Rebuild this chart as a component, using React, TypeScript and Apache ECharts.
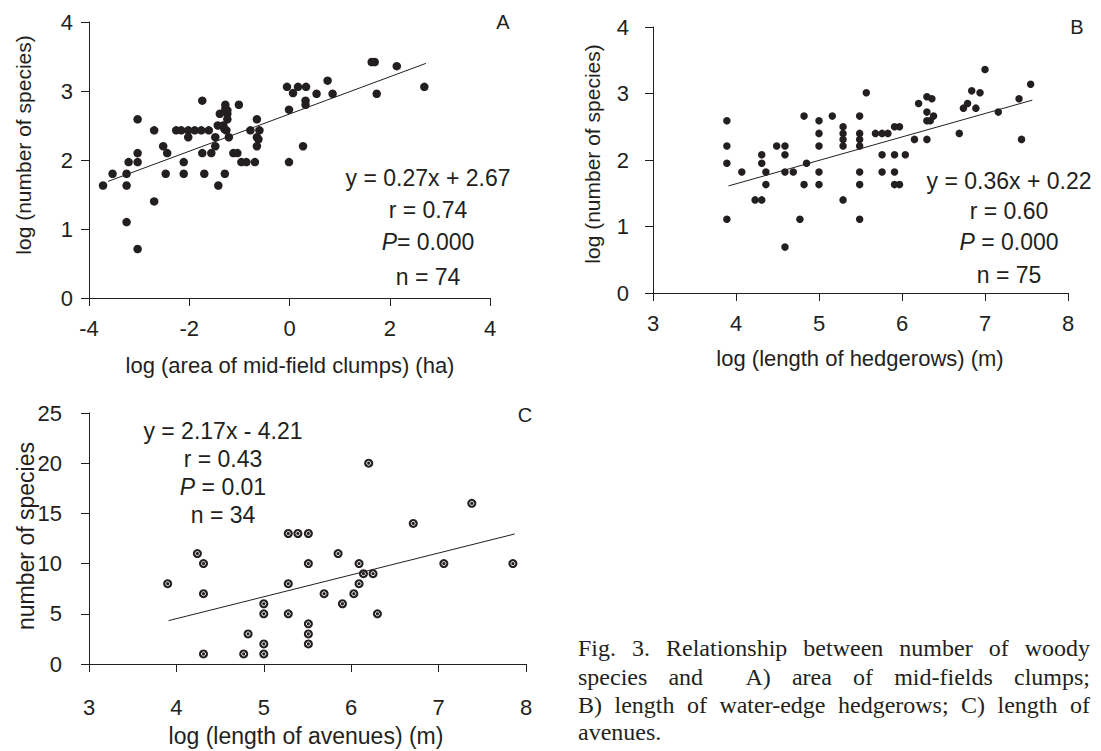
import React, { useEffect, useRef } from "react";
import * as echarts from "echarts";

const INK = "#231f20";
const SANS = "'Liberation Sans', Arial, Helvetica, sans-serif";
const SERIF = "'Liberation Serif', 'Times New Roman', serif";

// Panel A: log(area of mid-field clumps) vs log(number of species)
const clumpsPoints: number[][] = [
  [-3.72, 1.63], [-3.53, 1.8], [-3.25, 1.8], [-3.25, 1.63], [-3.21, 1.97], [-3.25, 1.1],
  [-3.03, 2.59], [-3.03, 2.1], [-3.03, 1.97], [-3.03, 0.71], [-2.7, 2.43], [-2.7, 1.4],
  [-2.52, 2.2], [-2.44, 2.1], [-2.47, 1.8], [-2.26, 2.43], [-2.16, 2.43], [-2.11, 1.97],
  [-2.11, 1.8], [-2.02, 2.33], [-2.02, 2.43], [-1.89, 2.43], [-1.76, 2.43], [-1.61, 2.43],
  [-1.74, 2.86], [-1.74, 2.1], [-1.7, 1.8], [-1.56, 2.1], [-1.48, 2.33], [-1.48, 2.2],
  [-1.42, 1.63], [-1.43, 2.5], [-1.39, 2.67], [-1.32, 2.5], [-1.29, 1.8], [-1.28, 2.8],
  [-1.24, 2.67], [-1.24, 2.59], [-1.26, 2.43], [-1.21, 2.33], [-1.12, 2.1], [-1.04, 2.1],
  [-1.01, 2.8], [-0.96, 1.97], [-0.86, 1.97], [-0.78, 2.43], [-0.69, 1.97], [-0.65, 2.59],
  [-0.65, 2.33], [-0.6, 2.43], [-0.65, 2.2], [-0.05, 3.06], [-0.01, 2.73], [-0.01, 1.97],
  [0.07, 2.97], [0.17, 3.06], [0.33, 3.06], [0.32, 2.86], [0.32, 2.8], [0.27, 2.2],
  [0.54, 2.96], [0.76, 3.15], [0.86, 2.96], [1.64, 3.42], [1.7, 3.42], [1.74, 2.96],
  [2.14, 3.36], [2.69, 3.06], [-1.28, 2.74], [-1.24, 2.72], [-0.62, 2.3], [-1.3, 2.45],
];
const clumpsFit: number[][] = [[-3.62, 1.69], [2.72, 3.4]];
const clumpsStats = ["y = 0.27x + 2.67", "r = 0.74", "P= 0.000", "n = 74"];

// Panel B: log(length of hedgerows) vs log(number of species)
const hedgePoints: number[][] = [
  [3.89, 2.59], [3.89, 2.21], [3.89, 1.95], [3.89, 1.11], [4.07, 1.82], [4.23, 1.4],
  [4.31, 1.4], [4.31, 2.08], [4.31, 1.95], [4.36, 1.82], [4.36, 1.63], [4.49, 2.21],
  [4.59, 2.21], [4.59, 2.08], [4.59, 1.82], [4.59, 0.69], [4.69, 1.82], [4.77, 1.11],
  [4.82, 2.66], [4.82, 1.63], [4.85, 1.95], [5.0, 2.59], [5.0, 2.4], [5.0, 2.21],
  [5.0, 1.82], [5.0, 1.63], [5.16, 2.66], [5.29, 2.5], [5.29, 2.4], [5.29, 2.31],
  [5.29, 2.21], [5.29, 1.4], [5.49, 2.66], [5.49, 2.4], [5.49, 2.31], [5.49, 2.21],
  [5.49, 1.82], [5.49, 1.63], [5.49, 1.11], [5.57, 3.01], [5.68, 2.4], [5.76, 2.4],
  [5.83, 2.4], [5.76, 2.08], [5.76, 1.82], [5.91, 2.5], [5.97, 2.5], [5.91, 2.08],
  [5.91, 1.82], [5.91, 1.63], [5.97, 1.63], [6.04, 2.08], [6.15, 2.31], [6.2, 2.85],
  [6.3, 2.95], [6.36, 2.92], [6.3, 2.72], [6.3, 2.59], [6.34, 2.59], [6.38, 2.66],
  [6.3, 2.31], [6.69, 2.4], [6.74, 2.78], [6.79, 2.85], [6.84, 3.04], [6.89, 2.78],
  [6.94, 3.01], [7.0, 3.36], [7.16, 2.72], [7.41, 2.92], [7.44, 2.31], [7.55, 3.14],
];
const hedgeFit: number[][] = [[3.91, 1.61], [7.57, 2.9]];
const hedgeStats = ["y = 0.36x + 0.22", "r = 0.60", "P = 0.000", "n = 75"];

// Panel C: log(length of avenues) vs number of species
const avenuePoints: number[][] = [
  [3.9, 8], [4.24, 11], [4.31, 10], [4.31, 7], [4.31, 1], [4.77, 1], [4.82, 3],
  [5.0, 6], [5.0, 5], [5.0, 2], [5.0, 1], [5.28, 13], [5.39, 13], [5.51, 13],
  [5.28, 8], [5.28, 5], [5.51, 10], [5.51, 4], [5.51, 3], [5.51, 2], [5.69, 7],
  [5.85, 11], [5.9, 6], [6.03, 7], [6.09, 10], [6.09, 8], [6.14, 9], [6.25, 9],
  [6.2, 20], [6.3, 5], [6.71, 14], [7.06, 10], [7.38, 16], [7.85, 10],
];
const avenueFit: number[][] = [[3.91, 4.32], [7.87, 12.95]];
const avenueStats = ["y = 2.17x - 4.21", "r = 0.43", "P = 0.01", "n = 34"];

const captionLines = [
  "Fig. 3. Relationship between number of woody",
  "species and  A) area of mid-fields clumps;",
  "B) length of water-edge hedgerows; C) length of",
  "avenues.",
];

function axisBase(fontSize: number, margin: number) {
  return {
    axisLine: { show: true, onZero: false, lineStyle: { color: INK, width: 1 } },
    axisTick: { show: true, inside: false, length: 8, lineStyle: { color: INK, width: 1 } },
    splitLine: { show: false },
    axisLabel: {
      color: INK, fontFamily: SANS, fontSize, margin,
      showMinLabel: true, showMaxLabel: true,
    },
  };
}

function statTexts(lines: string[], cx: number, ys: number[], fontSize: number) {
  return lines.map((t, i) => {
    const isP = t.startsWith("P");
    const base = { fill: INK, fontFamily: SANS, fontSize };
    return {
      type: "text",
      x: cx,
      y: ys[i],
      style: isP
        ? {
            text: "{i|P}{n|" + t.slice(1) + "}",
            rich: {
              i: { ...base, fontStyle: "italic" },
              n: { ...base },
            },
            align: "center",
            verticalAlign: "middle",
            textAlign: "center",
            textVerticalAlign: "middle",
          }
        : { ...base, text: t, textAlign: "center", textVerticalAlign: "middle", align: "center", verticalAlign: "middle" },
    };
  });
}

function captionElements() {
  const fontSize = 24;
  const left = 578;
  const right = 1090;
  const centers = [648, 677, 705, 732];
  const canvas = document.createElement("canvas");
  const ctx = canvas.getContext("2d") as CanvasRenderingContext2D;
  ctx.font = `${fontSize}px ${SERIF}`;
  const els: any[] = [];
  captionLines.forEach((line, li) => {
    const style = { fill: INK, fontFamily: SERIF, fontSize, textVerticalAlign: "middle", verticalAlign: "middle" };
    if (li === captionLines.length - 1) {
      els.push({ type: "text", x: left, y: centers[li], style: { ...style, text: line, textAlign: "left" } });
      return;
    }
    const words = line.split(" ");
    const widths = words.map((w) => (w ? ctx.measureText(w).width : 0));
    const total = widths.reduce((a, b) => a + b, 0);
    const gap = (right - left - total) / (words.length - 1);
    let x = left;
    words.forEach((w, wi) => {
      if (w) els.push({ type: "text", x, y: centers[li], style: { ...style, text: w, textAlign: "left" } });
      x += widths[wi] + gap;
    });
  });
  return els;
}

function nameText(text: string, x: number, y: number, fontSize: number, rotate = 0) {
  return {
    type: "text",
    x, y, rotation: rotate,
    style: {
      text, fill: INK, fontFamily: SANS, fontSize,
      textAlign: "center", textVerticalAlign: "middle", align: "center", verticalAlign: "middle",
    },
  };
}

export default function App() {
  const ref = useRef<HTMLDivElement>(null);
  useEffect(() => {
    document.body.style.margin = "0";
    if (!ref.current) return;
    const chart = echarts.init(ref.current, undefined, { renderer: "svg" });
    const option: any = {
      animation: false,
      backgroundColor: "#ffffff",
      grid: [
        { left: 89, top: 22, width: 401, height: 276 },
        { left: 653, top: 27, width: 415, height: 266 },
        { left: 89, top: 413, width: 437, height: 251 },
      ],
      xAxis: [
        { gridIndex: 0, type: "value", min: -4, max: 4, interval: 2, ...axisBase(22, 19) },
        { gridIndex: 1, type: "value", min: 3, max: 8, interval: 1, ...axisBase(22, 19) },
        { gridIndex: 2, type: "value", min: 3, max: 8, interval: 1, ...axisBase(22, 32) },
      ],
      yAxis: [
        { gridIndex: 0, type: "value", min: 0, max: 4, interval: 1, ...axisBase(22, 16) },
        { gridIndex: 1, type: "value", min: 0, max: 4, interval: 1, ...axisBase(22, 24) },
        { gridIndex: 2, type: "value", min: 0, max: 25, interval: 5, ...axisBase(22, 27) },
      ],
      series: [
        {
          type: "line", xAxisIndex: 0, yAxisIndex: 0, data: clumpsFit, symbol: "none",
          lineStyle: { color: INK, width: 1 }, silent: true,
        },
        {
          type: "scatter", xAxisIndex: 0, yAxisIndex: 0, data: clumpsPoints,
          symbol: "circle", symbolSize: 8.5, itemStyle: { color: INK, opacity: 1 },
        },
        {
          type: "line", xAxisIndex: 1, yAxisIndex: 1, data: hedgeFit, symbol: "none",
          lineStyle: { color: INK, width: 1 }, silent: true,
        },
        {
          type: "scatter", xAxisIndex: 1, yAxisIndex: 1, data: hedgePoints,
          symbol: "circle", symbolSize: 7.5, itemStyle: { color: INK, opacity: 1 },
        },
        {
          type: "line", xAxisIndex: 2, yAxisIndex: 2, data: avenueFit, symbol: "none",
          lineStyle: { color: INK, width: 1 }, silent: true,
        },
        {
          type: "scatter", xAxisIndex: 2, yAxisIndex: 2, data: avenuePoints,
          symbol: "circle", symbolSize: 9, itemStyle: { color: INK, opacity: 1 },
        },
        {
          type: "scatter", xAxisIndex: 2, yAxisIndex: 2, data: avenuePoints,
          symbol: "circle", symbolSize: 4,
          itemStyle: { color: INK, borderColor: "#ffffff", borderWidth: 1, opacity: 1 },
        },
      ],
      graphic: [
        nameText("A", 503, 22, 20),
        nameText("B", 1077, 27, 20),
        nameText("C", 525, 415, 20),
        nameText("log (number of species)", 23, 145, 21, Math.PI / 2),
        nameText("log (number of species)", 592, 154, 21, Math.PI / 2),
        nameText("number of species", 26, 536, 23, Math.PI / 2),
        nameText("log (area of mid-field clumps) (ha)", 290, 365, 22),
        nameText("log (length of hedgerows) (m)", 860, 358, 22),
        nameText("log (length of avenues) (m)", 306, 736, 23),
        ...statTexts(clumpsStats, 428, [178, 210, 242, 277], 23),
        ...statTexts(hedgeStats, 1009, [181, 211, 242, 275], 23),
        ...statTexts(avenueStats, 223, [431, 459, 487, 515], 23),
        ...captionElements(),
      ],
    };
    chart.setOption(option);
    return () => chart.dispose();
  }, []);
  return <div ref={ref} style={{ width: 1101, height: 751 }} />;
}
